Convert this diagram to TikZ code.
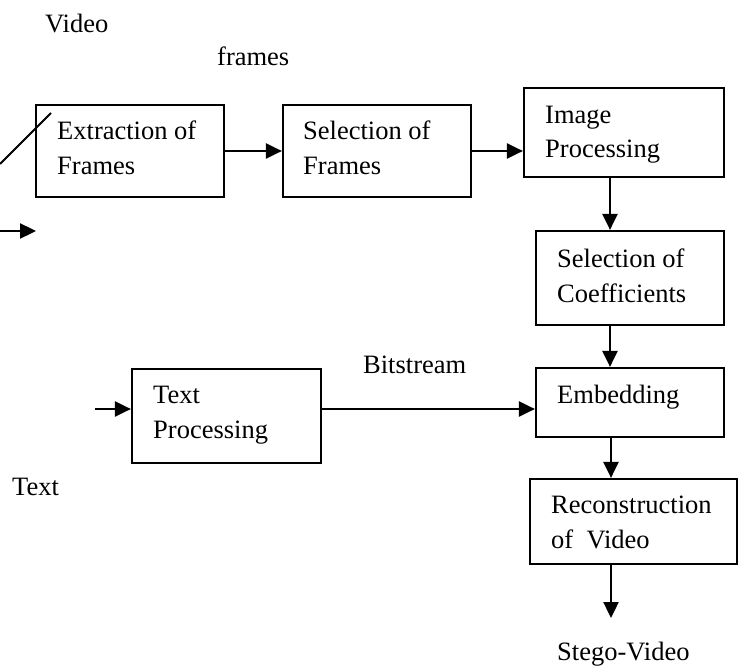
\documentclass[tikz,border=0pt]{standalone}
\usepackage{fontspec}
\setmainfont{Liberation Serif}
\usetikzlibrary{arrows.meta}
\begin{document}
\begin{tikzpicture}[x=1pt,y=-1pt,
  box/.style={draw, line width=2.2pt, rectangle, inner sep=0pt},
  lbl/.style={anchor=base west, inner sep=0pt, font=\fontsize{26.5}{36}\selectfont},
  arr/.style={line width=2.4pt, -{Triangle[length=16pt,width=15pt]}},
  wire/.style={line width=2pt}]
\useasboundingbox (0,0) rectangle (742,666);

% process boxes
\node[box, minimum width=188pt, minimum height=92pt] (ext)  at (130,151)   {};
\node[box, minimum width=188pt, minimum height=92pt] (self) at (377,151)   {};
\node[box, minimum width=200pt, minimum height=89pt] (img)  at (624,132.5) {};
\node[box, minimum width=188pt, minimum height=94pt] (coef) at (630,278)   {};
\node[box, minimum width=188pt, minimum height=69pt] (emb)  at (630,402.5) {};
\node[box, minimum width=189pt, minimum height=94pt] (txt)  at (226.5,416) {};
\node[box, minimum width=207pt, minimum height=85pt] (rec)  at (633.5,521.5) {};

% box texts
\node[lbl] (t-ext1)  at (57,140)  {Extraction of};
\node[lbl] (t-ext2)  at (57,175)  {Frames};
\node[lbl] (t-self1) at (303,140) {Selection of};
\node[lbl] (t-self2) at (303,175) {Frames};
\node[lbl] (t-img1)  at (545,124) {Image};
\node[lbl] (t-img2)  at (545,158) {Processing};
\node[lbl] (t-coef1) at (557,267) {Selection of};
\node[lbl] (t-coef2) at (557,302) {Coefficients};
\node[lbl] (t-emb)   at (557,403) {Embedding};
\node[lbl] (t-txt1)  at (153,403) {Text};
\node[lbl] (t-txt2)  at (153,438) {Processing};
\node[lbl] (t-rec1)  at (551,513) {Reconstruction};
\node[lbl] (t-rec2)  at (551,548) {of\ \ Video};

% free labels
\node[lbl] (video)   at (45,33)   {Video};
\node[lbl] (frames)  at (217,66)  {frames};
\node[lbl] (bits)    at (363,373) {Bitstream};
\node[lbl] (text)    at (12,495)  {Text};
\node[lbl] (stego)   at (557,660) {Stego-Video};

% guide coordinates
\coordinate (colx) at (610,0);
\coordinate (colx2) at (611,0);
\coordinate (rowb) at (0,409);
\coordinate (txtin) at (95,409);
\coordinate (out) at (611,618);
\coordinate (vin0) at (0,231);
\coordinate (vin1) at (36,231);
\coordinate (sl0) at (0,164);
\coordinate (sl1) at (51,113);

% connectors
\draw[arr] (ext.east) -- (self.west);
\draw[arr] (self.east) -- (self.east -| img.west);
\draw[arr] (img.south -| colx) -- (coef.north -| colx);
\draw[arr] (coef.south -| colx) -- (emb.north -| colx);
\draw[arr] (txt.east |- rowb) -- (emb.west |- rowb);
\draw[arr] (txtin) -- (txt.west |- rowb);
\draw[arr] (emb.south -| colx2) -- (rec.north -| colx2);
\draw[arr] (rec.south -| colx2) -- (out);
\draw[arr] (vin0) -- (vin1);
\draw[line width=1.8pt] (sl0) -- (sl1);
\end{tikzpicture}
\end{document}
